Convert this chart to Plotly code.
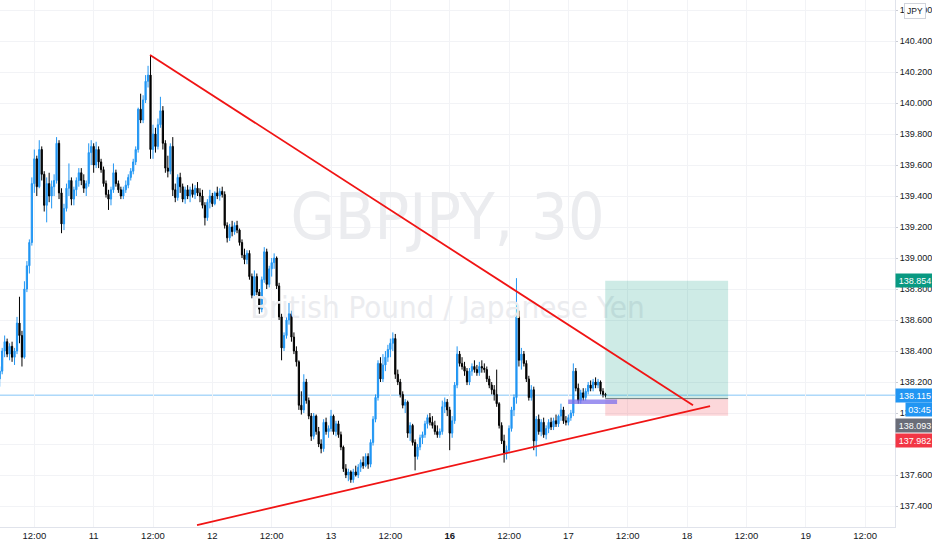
import plotly.graph_objects as go

# GBPJPY 30-minute candles (bar index 0 = 10th, 05:00)
opens = [
    138.22, 138.27, 138.40, 138.46, 138.38, 138.43, 138.36, 138.40, 138.58, 138.50,
    138.36, 138.80, 138.95, 139.10, 139.48, 139.64, 139.46, 139.70, 139.54, 139.34,
    139.48, 139.40, 139.46, 139.50, 139.74, 139.42, 139.22, 139.32, 139.45, 139.50,
    139.38, 139.44, 139.50, 139.55, 139.50, 139.45, 139.48, 139.68, 139.72, 139.60,
    139.70, 139.62, 139.57, 139.48, 139.41, 139.38, 139.44, 139.55, 139.48, 139.44,
    139.40, 139.44, 139.47, 139.52, 139.56, 139.62, 139.70, 139.96, 139.89, 140.02,
    140.14, 140.18, 139.70, 139.80, 139.72, 139.86, 139.95, 139.74, 139.58, 139.56,
    139.72, 139.44, 139.39, 139.52, 139.46, 139.38, 139.44, 139.40, 139.44, 139.41,
    139.45, 139.42, 139.40, 139.34, 139.26, 139.36, 139.40, 139.35, 139.42, 139.40,
    139.43, 139.41, 139.21, 139.13, 139.20, 139.17, 139.21, 139.18, 139.10, 139.02,
    138.99, 139.03, 138.88, 138.76, 138.88, 138.78, 138.67, 138.86, 139.04, 138.83,
    138.93, 138.97, 139.00, 138.82, 138.62, 138.42, 138.50, 138.60, 138.64, 138.49,
    138.40, 138.33, 138.05, 138.02, 138.20, 138.08, 137.98, 137.85, 137.98, 137.88,
    137.80, 137.77, 137.94, 137.88, 137.90, 137.98, 137.88, 137.93, 137.86, 137.78,
    137.64, 137.60, 137.62, 137.57, 137.62, 137.60, 137.65, 137.68, 137.66, 137.72,
    137.67, 137.81, 137.96, 138.10, 138.32, 138.22, 138.31, 138.36, 138.41, 138.45,
    138.48, 138.25, 138.20, 138.12, 138.05, 138.07, 137.87, 137.92, 137.81, 137.72,
    137.78, 137.84, 137.86, 137.93, 137.97, 137.94, 137.92, 137.88, 137.86, 137.88,
    138.04, 138.07, 138.02, 137.87, 137.95, 138.18, 138.38, 138.32, 138.30, 138.27,
    138.20, 138.27, 138.30, 138.28, 138.26, 138.30, 138.29, 138.28, 138.22, 138.18,
    138.15, 138.12, 138.06, 137.92, 137.82, 137.74, 137.76, 137.90, 138.02, 138.10,
    138.62, 138.34, 138.38, 138.32, 138.22, 138.10, 138.15, 137.82, 137.96, 137.88,
    137.94, 137.86, 137.90, 137.94, 137.91, 137.95, 137.93, 137.98, 138.02, 137.95,
    137.94, 137.97, 138.00, 138.27, 138.16, 138.08, 138.13, 138.10, 138.14, 138.18,
    138.16, 138.20, 138.18, 138.20, 138.14, 138.12,
]
highs = [
    138.30, 138.42, 138.50, 138.48, 138.45, 138.46, 138.42, 138.62, 138.75, 138.53,
    138.85, 138.98, 139.12, 139.52, 139.70, 139.66, 139.76, 139.72, 139.56, 139.52,
    139.55, 139.50, 139.54, 139.78, 139.76, 139.45, 139.35, 139.48, 139.61, 139.52,
    139.46, 139.52, 139.58, 139.58, 139.54, 139.50, 139.74, 139.76, 139.74, 139.75,
    139.72, 139.64, 139.59, 139.50, 139.44, 139.46, 139.61, 139.57, 139.50, 139.46,
    139.46, 139.50, 139.54, 139.58, 139.64, 139.72, 139.97, 140.06, 140.05, 140.18,
    140.24, 140.31, 139.86, 139.84, 139.90, 140.04, 139.98, 139.76, 139.66, 139.74,
    139.78, 139.48, 139.54, 139.55, 139.48, 139.46, 139.47, 139.46, 139.48, 139.47,
    139.49, 139.45, 139.44, 139.36, 139.38, 139.44, 139.42, 139.43, 139.46, 139.45,
    139.46, 139.43, 139.23, 139.22, 139.24, 139.23, 139.24, 139.19, 139.12, 139.06,
    139.05, 139.05, 138.90, 138.92, 138.90, 138.80, 138.88, 139.07, 139.06, 138.95,
    139.00, 139.03, 139.01, 138.84, 138.64, 138.52, 138.62, 138.71, 138.66, 138.52,
    138.43, 138.34, 138.14, 138.25, 138.22, 138.10, 138.00, 138.00, 137.99, 137.91,
    137.83, 137.96, 137.97, 137.92, 138.02, 137.99, 137.95, 137.95, 137.88, 137.79,
    137.67, 137.64, 137.63, 137.64, 137.66, 137.67, 137.70, 137.72, 137.74, 137.74,
    137.83, 137.98, 138.12, 138.34, 138.36, 138.38, 138.40, 138.44, 138.48, 138.52,
    138.51, 138.28, 138.22, 138.14, 138.09, 138.08, 137.94, 137.93, 137.83, 137.80,
    137.86, 137.88, 137.95, 137.99, 138.00, 137.98, 137.95, 137.92, 137.90, 138.08,
    138.10, 138.09, 138.04, 137.98, 138.20, 138.43, 138.40, 138.36, 138.33, 138.29,
    138.29, 138.32, 138.34, 138.31, 138.33, 138.34, 138.32, 138.30, 138.24, 138.20,
    138.18, 138.28, 138.07, 137.94, 137.86, 137.79, 137.92, 138.04, 138.12, 138.87,
    138.66, 138.42, 138.40, 138.34, 138.24, 138.18, 138.17, 137.98, 137.99, 137.96,
    137.97, 137.92, 137.96, 137.97, 137.97, 137.99, 137.99, 138.06, 138.04, 137.98,
    137.99, 138.02, 138.32, 138.29, 138.19, 138.15, 138.16, 138.16, 138.20, 138.21,
    138.22, 138.23, 138.22, 138.21, 138.16, 138.13,
]
lows = [
    138.17, 138.25, 138.36, 138.36, 138.34, 138.33, 138.31, 138.38, 138.45, 138.30,
    138.35, 138.78, 138.90, 139.08, 139.42, 139.40, 139.45, 139.50, 139.30, 139.23,
    139.36, 139.32, 139.40, 139.48, 139.38, 139.16, 139.18, 139.30, 139.40, 139.34,
    139.34, 139.40, 139.46, 139.47, 139.42, 139.40, 139.46, 139.60, 139.55, 139.58,
    139.58, 139.55, 139.46, 139.39, 139.31, 139.34, 139.42, 139.46, 139.42, 139.38,
    139.38, 139.42, 139.45, 139.50, 139.54, 139.60, 139.68, 139.87, 139.87, 140.00,
    140.10, 139.64, 139.64, 139.68, 139.70, 139.84, 139.70, 139.55, 139.52, 139.54,
    139.40, 139.36, 139.37, 139.42, 139.36, 139.35, 139.38, 139.36, 139.39, 139.38,
    139.40, 139.36, 139.32, 139.21, 139.24, 139.32, 139.33, 139.34, 139.38, 139.37,
    139.39, 139.19, 139.10, 139.11, 139.14, 139.15, 139.16, 139.08, 139.00, 138.96,
    138.96, 138.86, 138.74, 138.72, 138.76, 138.64, 138.65, 138.84, 138.80, 138.81,
    138.88, 138.93, 138.80, 138.60, 138.34, 138.40, 138.48, 138.57, 138.46, 138.38,
    138.30, 138.02, 137.99, 138.00, 138.06, 137.96, 137.82, 137.83, 137.86, 137.78,
    137.74, 137.75, 137.86, 137.84, 137.88, 137.86, 137.85, 137.84, 137.76, 137.62,
    137.58, 137.56, 137.55, 137.55, 137.59, 137.58, 137.62, 137.64, 137.65, 137.64,
    137.65, 137.79, 137.94, 138.08, 138.20, 138.20, 138.27, 138.33, 138.36, 138.40,
    138.22, 138.18, 138.10, 138.03, 138.00, 137.84, 137.82, 137.79, 137.63, 137.70,
    137.76, 137.80, 137.84, 137.90, 137.92, 137.90, 137.86, 137.84, 137.84, 137.86,
    138.00, 137.98, 137.76, 137.84, 137.93, 138.16, 138.30, 138.28, 138.24, 138.18,
    138.18, 138.24, 138.26, 138.24, 138.24, 138.26, 138.26, 138.20, 138.16, 138.12,
    138.08, 138.04, 137.90, 137.80, 137.68, 137.70, 137.74, 137.88, 137.98, 138.06,
    138.30, 138.28, 138.30, 138.20, 138.08, 138.08, 137.76, 137.72, 137.86, 137.85,
    137.84, 137.83, 137.87, 137.89, 137.89, 137.91, 137.91, 137.95, 137.93, 137.92,
    137.92, 137.95, 137.98, 138.14, 138.06, 138.06, 138.08, 138.08, 138.12, 138.14,
    138.14, 138.16, 138.16, 138.12, 138.10, 138.10,
]
closes = [
    138.27, 138.40, 138.46, 138.38, 138.43, 138.36, 138.40, 138.58, 138.50, 138.36,
    138.80, 138.95, 139.10, 139.48, 139.64, 139.46, 139.70, 139.54, 139.34, 139.48,
    139.40, 139.46, 139.50, 139.74, 139.42, 139.22, 139.32, 139.45, 139.50, 139.38,
    139.44, 139.50, 139.55, 139.50, 139.45, 139.48, 139.68, 139.72, 139.60, 139.70,
    139.62, 139.57, 139.48, 139.41, 139.38, 139.44, 139.55, 139.48, 139.44, 139.40,
    139.44, 139.47, 139.52, 139.56, 139.62, 139.70, 139.96, 139.89, 140.02, 140.14,
    140.18, 139.70, 139.80, 139.72, 139.86, 139.95, 139.74, 139.58, 139.56, 139.72,
    139.44, 139.39, 139.52, 139.46, 139.38, 139.44, 139.40, 139.44, 139.41, 139.45,
    139.42, 139.40, 139.34, 139.26, 139.36, 139.40, 139.35, 139.42, 139.40, 139.43,
    139.41, 139.21, 139.13, 139.20, 139.17, 139.21, 139.18, 139.10, 139.02, 138.99,
    139.03, 138.88, 138.76, 138.88, 138.78, 138.67, 138.86, 139.04, 138.83, 138.93,
    138.97, 139.00, 138.82, 138.62, 138.42, 138.50, 138.60, 138.64, 138.49, 138.40,
    138.33, 138.05, 138.02, 138.20, 138.08, 137.98, 137.85, 137.98, 137.88, 137.80,
    137.77, 137.94, 137.88, 137.90, 137.98, 137.88, 137.93, 137.86, 137.78, 137.64,
    137.60, 137.62, 137.57, 137.62, 137.60, 137.65, 137.68, 137.66, 137.72, 137.67,
    137.81, 137.96, 138.10, 138.32, 138.22, 138.31, 138.36, 138.41, 138.45, 138.48,
    138.25, 138.20, 138.12, 138.05, 138.07, 137.87, 137.92, 137.81, 137.72, 137.78,
    137.84, 137.86, 137.93, 137.97, 137.94, 137.92, 137.88, 137.86, 137.88, 138.04,
    138.07, 138.02, 137.87, 137.95, 138.18, 138.38, 138.32, 138.30, 138.27, 138.20,
    138.27, 138.30, 138.28, 138.26, 138.30, 138.29, 138.28, 138.22, 138.18, 138.15,
    138.12, 138.06, 137.92, 137.82, 137.74, 137.76, 137.90, 138.02, 138.10, 138.62,
    138.34, 138.38, 138.32, 138.22, 138.10, 138.15, 137.82, 137.96, 137.88, 137.94,
    137.86, 137.90, 137.94, 137.91, 137.95, 137.93, 137.98, 138.02, 137.95, 137.94,
    137.97, 138.00, 138.27, 138.16, 138.08, 138.13, 138.10, 138.14, 138.18, 138.16,
    138.20, 138.18, 138.20, 138.14, 138.12, 138.115,
]
bars = list(range(len(closes)))

# time axis labels (bar index of each label)
tick_bars = [14, 38, 62, 86, 110, 134, 158, 182, 206, 230, 254, 278, 302, 326, 350]
tick_text = ["12:00", "11", "12:00", "12", "12:00", "13", "12:00", "<b>16</b>",
             "12:00", "17", "12:00", "18", "12:00", "19", "12:00"]

# drawings: (bar, price) end points
upper_bars, upper_prices = [60.8, 280.4], [140.31, 138.05]
lower_bars, lower_prices = [79.8, 287.3], [137.277, 138.045]
pos_start, pos_end = 244.9, 294.6
entry, target, stop = 138.093, 138.854, 137.982
zone_bars, zone_prices = [229.9, 249.7], [138.058, 138.087]
last_price = 138.115
countdown = "03:45"

x_range = [0.12, 362.1]
y_range = [137.2645, 140.6645]
WM_FONT = "Liberation Sans Narrow, DejaVu Sans Condensed, Liberation Sans, sans-serif"
FONT = "Liberation Sans, Arial, sans-serif"

fig = go.Figure()

# watermark as a text trace so it sits under the candles and drawings
mid_bar = (x_range[0] + x_range[1]) / 2
fig.add_trace(go.Scatter(
    x=[mid_bar, mid_bar], y=[139.225, 138.66], mode="text",
    text=["GBPJPY, 30", "British Pound / Japanese Yen"],
    textfont=dict(family=WM_FONT, size=[64, 31], color="#ebecef"),
    textposition="middle center", hoverinfo="skip", showlegend=False,
))

fig.add_trace(go.Candlestick(
    x=bars, open=opens, high=highs, low=lows, close=closes,
    increasing=dict(line=dict(color="#2196f3", width=1), fillcolor="#2196f3"),
    decreasing=dict(line=dict(color="#000000", width=1), fillcolor="#000000"),
    whiskerwidth=0, hoverinfo="skip", showlegend=False,
))

shapes = [
    # last price line
    dict(type="line", xref="paper", x0=0, x1=1, yref="y", y0=last_price, y1=last_price,
         line=dict(color="rgba(33,150,243,0.55)", width=1), layer="below"),
    # long position: profit and stop zones
    dict(type="rect", xref="x", yref="y", x0=pos_start, x1=pos_end, y0=entry, y1=target,
         fillcolor="rgba(8,153,129,0.2)", line=dict(width=0), layer="above"),
    dict(type="rect", xref="x", yref="y", x0=pos_start, x1=pos_end, y0=stop, y1=entry,
         fillcolor="rgba(242,54,69,0.2)", line=dict(width=0), layer="above"),
    dict(type="line", xref="x", yref="y", x0=pos_start, x1=pos_end, y0=entry, y1=entry,
         line=dict(color="#6f7f80", width=1), layer="above"),
    # purple zone
    dict(type="rect", xref="x", yref="y", x0=zone_bars[0], x1=zone_bars[1],
         y0=zone_prices[0], y1=zone_prices[1],
         fillcolor="rgba(126,112,235,0.75)", line=dict(width=0), layer="above"),
    # triangle lines
    dict(type="line", xref="x", yref="y", x0=upper_bars[0], x1=upper_bars[1],
         y0=upper_prices[0], y1=upper_prices[1], line=dict(color="#f01414", width=1.8)),
    dict(type="line", xref="x", yref="y", x0=lower_bars[0], x1=lower_bars[1],
         y0=lower_prices[0], y1=lower_prices[1], line=dict(color="#f01414", width=1.8)),
]

def price_tag(text, y, bg, yshift=0, xshift=0, width=35):
    return dict(text=text, xref="paper", x=1, xanchor="left", xshift=xshift,
                yref="y", y=y, yanchor="middle", yshift=yshift, showarrow=False,
                font=dict(family=FONT, size=9, color="white"), bgcolor=bg,
                borderpad=1.5, width=width, align="center")

annotations = [
    price_tag(f"{target:.3f}", target, "#089981"),
    price_tag(f"{last_price:.3f}", last_price, "#2196f3"),
    price_tag(countdown, last_price, "#2196f3", yshift=-14, xshift=10, width=24),
    price_tag(f"{entry:.3f}", entry, "#6a6d78", yshift=-27),
    price_tag(f"{stop:.3f}", stop, "#f23645", yshift=-25),
    dict(text="JPY", xref="paper", x=1, xanchor="left", xshift=9,
         yref="paper", y=1, yanchor="top", yshift=-3, showarrow=False,
         font=dict(family=FONT, size=8.5, color="#131722"), bgcolor="white",
         bordercolor="#d1d4dc", borderwidth=1, borderpad=2),
]

fig.update_layout(
    width=932, height=550,
    margin=dict(l=0, r=37, t=0, b=23, autoexpand=False),
    paper_bgcolor="white", plot_bgcolor="white",
    font=dict(family=FONT, size=9, color="#131722"),
    shapes=shapes, annotations=annotations,
    showlegend=False, hovermode=False, dragmode=False,
)
fig.update_xaxes(
    range=x_range, tickmode="array", tickvals=tick_bars, ticktext=tick_text,
    showgrid=True, gridcolor="#f2f3f6", gridwidth=1, zeroline=False,
    showline=True, linecolor="#e0e3eb", ticks="", rangeslider=dict(visible=False),
    tickfont=dict(family=FONT, size=9.5, color="#131722"),
)
fig.update_yaxes(
    side="right", range=y_range, tick0=137.4, dtick=0.2, tickformat=".3f",
    showgrid=True, gridcolor="#f2f3f6", gridwidth=1, zeroline=False,
    showline=True, linecolor="#e0e3eb", ticks="outside", ticklen=2, tickcolor="#c9ccd4",
    tickfont=dict(family=FONT, size=9, color="#131722"),
)

fig.write_html("out.html", config={"displayModeBar": False},
               post_script="document.body.style.margin='0';")
